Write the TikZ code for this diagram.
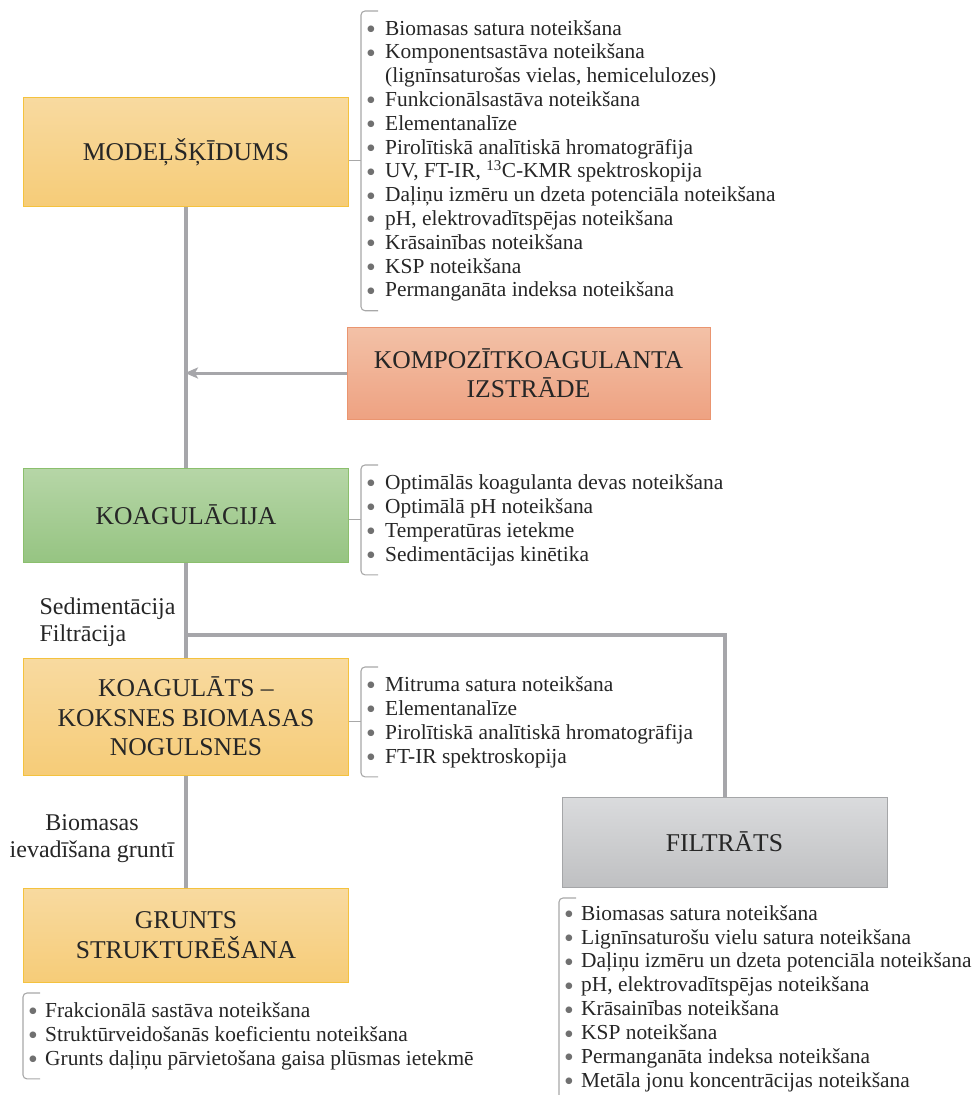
\documentclass[tikz,border=0pt]{standalone}
\usepackage{fontspec}
\setmainfont{Liberation Serif}
\usepackage{xcolor}
\usetikzlibrary{positioning,arrows.meta}

\definecolor{txt}{HTML}{262626}
\definecolor{linegray}{HTML}{A6A6AA}
\definecolor{bracegray}{HTML}{A8A8A8}
\definecolor{bulletgray}{HTML}{707070}
\definecolor{orgtop}{HTML}{F8DAA0}
\definecolor{orgbot}{HTML}{F6CC78}
\definecolor{orgedge}{HTML}{F4C23E}
\definecolor{saltop}{HTML}{F3C1A7}
\definecolor{salbot}{HTML}{EEA282}
\definecolor{saledge}{HTML}{EA9570}
\definecolor{grntop}{HTML}{B6D6A7}
\definecolor{grnbot}{HTML}{96C482}
\definecolor{grnedge}{HTML}{8BBF6D}
\definecolor{grytop}{HTML}{DADBDD}
\definecolor{grybot}{HTML}{BFC0C2}
\definecolor{gryedge}{HTML}{A5A6A8}

\newlength{\bulw}
\newcommand{\li}{\makebox[\bulw][l]{\smash{\textcolor{bulletgray}{\raisebox{-0.35ex}{\scalebox{1.3}{\textbullet}}}}}}

\tikzset{
  stage/.style={draw=#1edge, line width=1pt, top color=#1top, bottom color=#1bot,
    minimum width=325pt, align=center, text=txt,
    font=\fontsize{25.6}{29.5}\selectfont},
  list/.style={anchor=north west, align=left, inner xsep=5pt, inner ysep=9pt, text=txt,
    font=\fontsize{21.4}{24}\selectfont, execute at begin node={\setlength{\bulw}{#1}}},
  list/.default=19pt,
  lbl/.style={text=txt, font=\fontsize{24}{27}\selectfont},
  conn/.style={draw=linegray, line width=4pt},
  brace/.style={draw=bracegray, line width=1.1pt, rounded corners=4pt},
}

\begin{document}
\begin{tikzpicture}[x=1pt,y=-1pt,>={Stealth[length=13pt,width=11pt,inset=3pt]}]
\useasboundingbox (0,0) rectangle (977,1095);

% main stages
\node[stage=org, minimum height=109pt] (mod) at (186,152) {MODEĻŠĶĪDUMS};
\node[stage=sal, minimum width=363pt, minimum height=92pt] (kompo) at (528.5,373) {KOMPOZĪTKOAGULANTA\\IZSTRĀDE};
\node[stage=grn, minimum height=94pt] (koag) at (186,515) {KOAGULĀCIJA};
\node[stage=org, minimum height=117pt] (koagt) at (186,716.5) {KOAGULĀTS –\\KOKSNES BIOMASAS\\NOGULSNES};
\node[stage=org, minimum height=94pt] (grunts) at (186,935) {GRUNTS\\STRUKTURĒŠANA};
\node[stage=gry, minimum height=90pt] (filt) at (724.5,842) {FILTRĀTS};

% labels beside the flow
\node[lbl, anchor=west, align=left] (sedlbl) at (36,622.5) {Sedimentācija\\Filtrācija};
\node[lbl, align=center] (biolbl) at (92,838.5) {Biomasas\\ievadīšana gruntī};

% flow lines
\draw[conn] (mod.south) -- (koag.north);
\draw[conn] (koag.south) -- (koagt.north);
\draw[conn] (koagt.south) -- (grunts.north);
\draw[conn,->,line width=3pt,shorten >=-1pt] (kompo.west) -- (kompo.west -| mod.south);
\coordinate (split) at (koag.south |- 0,635);
\draw[conn] (split) -| (filt.north);

% method lists
\node[list, font=\fontsize{21.4}{23.8}\selectfont] (modlist) at (361,11) {%
\li Biomasas satura noteikšana\\
\li Komponentsastāva noteikšana\\
\hspace*{\bulw}(lignīnsaturošas vielas, hemicelulozes)\\
\li Funkcionālsastāva noteikšana\\
\li Elementanalīze\\
\li Pirolītiskā analītiskā hromatogrāfija\\
\li UV, FT-IR, \textsuperscript{13}C-KMR spektroskopija\\
\li Daļiņu izmēru un dzeta potenciāla noteikšana\\
\li pH, elektrovadītspējas noteikšana\\
\li Krāsainības noteikšana\\
\li KSP noteikšana\\
\li Permanganāta indeksa noteikšana};
\node[list] (koaglist) at (361,465) {%
\li Optimālās koagulanta devas noteikšana\\
\li Optimālā pH noteikšana\\
\li Temperatūras ietekme\\
\li Sedimentācijas kinētika};
\node[list] (koagtlist) at (361,667) {%
\li Mitruma satura noteikšana\\
\li Elementanalīze\\
\li Pirolītiskā analītiskā hromatogrāfija\\
\li FT-IR spektroskopija};
\node[list=17pt] (gruntlist) at (23,993) {%
\li Frakcionālā sastāva noteikšana\\
\li Struktūrveidošanās koeficientu noteikšana\\
\li Grunts daļiņu pārvietošana gaisa plūsmas ietekmē};
\node[list=17pt, inner ysep=7pt, font=\fontsize{21.4}{23.9}\selectfont] (filtlist) at (559,898) {%
\li Biomasas satura noteikšana\\
\li Lignīnsaturošu vielu satura noteikšana\\
\li Daļiņu izmēru un dzeta potenciāla noteikšana\\
\li pH, elektrovadītspējas noteikšana\\
\li Krāsainības noteikšana\\
\li KSP noteikšana\\
\li Permanganāta indeksa noteikšana\\
\li Metāla jonu koncentrācijas noteikšana};

% brackets round the lists
\foreach \l in {modlist,koaglist,koagtlist,gruntlist,filtlist}
  \draw[brace] ([xshift=17pt]\l.north west) -- (\l.north west) -- (\l.south west) -- ([xshift=17pt]\l.south west);

% short ties from stage to its list
\foreach \s/\l in {mod/modlist,koag/koaglist,koagt/koagtlist}
  \draw[bracegray,line width=1.1pt] (\s.east |- \l.west) -- (\l.west);
\end{tikzpicture}
\end{document}
